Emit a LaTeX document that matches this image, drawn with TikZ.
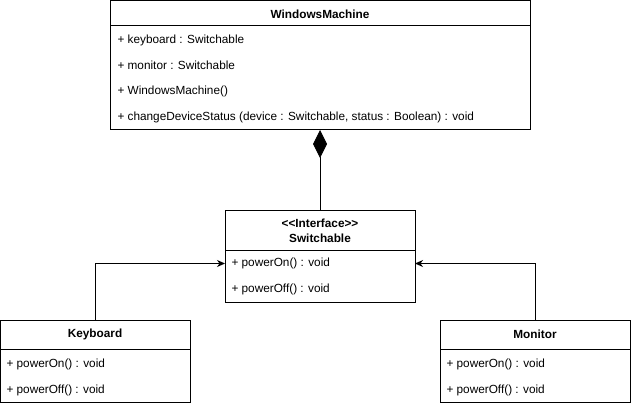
\documentclass[tikz,border=0pt]{standalone}
\usepackage{fontspec}
\setmainfont{Liberation Sans}
\usetikzlibrary{arrows.meta}
\begin{document}
\begin{tikzpicture}[x=1pt, y=-1pt, line width=1pt]
\tikzstyle{classbox} = [draw, rectangle, anchor=north west, inner sep=0pt, outer sep=0pt]
\tikzstyle{head} = [font=\bfseries\fontsize{11.8}{15}\selectfont, align=center, inner sep=0pt]
\tikzstyle{row} = [font=\fontsize{11.8}{15}\selectfont, anchor=west, inner sep=0pt]
\tikzstyle{inherit} = [-{Stealth[length=8pt, width=7pt, inset=2.5pt]}]
\tikzstyle{compose} = [{Diamond[length=28pt, width=14pt]}-]
\useasboundingbox (0,0) rectangle (631,406);

% WindowsMachine
\node[classbox, minimum width=420pt, minimum height=129pt] (machine) at (110,1) {};
\draw (110,26) -- (530,26);
\node[head] (machinetitle) at (320,14) {WindowsMachine};
\node[row] (machinekb) at (117,40.5) {+ keyboard : Switchable};
\node[row] (machinemon) at (117,65.5) {+ monitor : Switchable};
\node[row] (machinector) at (117,91) {+ WindowsMachine()};
\node[row] (machinechange) at (117,117) {+ changeDeviceStatus (device : Switchable, status : Boolean) : void};

% Switchable
\node[classbox, minimum width=190pt, minimum height=92pt] (switch) at (225,210) {};
\draw (225,250) -- (415,250);
\node[head] (switchstereo) at (320,223.5) {<{}<Interface>{}>};
\node[head] (switchtitle) at (320,238) {Switchable};
\node[row] (switchon) at (231,263.5) {+ powerOn() : void};
\node[row] (switchoff) at (231,289.5) {+ powerOff() : void};

% Keyboard
\node[classbox, minimum width=190pt, minimum height=82pt] (keyboard) at (0.5,320) {};
\draw (0.5,349) -- (190.5,349);
\node[head] (keyboardtitle) at (95,334) {Keyboard};
\node[row] (keyboardon) at (6,364.5) {+ powerOn() : void};
\node[row] (keyboardoff) at (6,390.5) {+ powerOff() : void};

% Monitor
\node[classbox, minimum width=190pt, minimum height=82pt] (monitor) at (440,320) {};
\draw (440,349) -- (630,349);
\node[head] (monitortitle) at (535,334) {Monitor};
\node[row] (monitoron) at (446,364.5) {+ powerOn() : void};
\node[row] (monitoroff) at (446,390.5) {+ powerOff() : void};

% connectors
\draw[compose] (machine.south) -- (switch.north);
\draw[inherit] (keyboard.north) |- (switch.west |- switchon);
\draw[inherit] (monitor.north) |- (switch.east |- switchon);
\end{tikzpicture}
\end{document}
